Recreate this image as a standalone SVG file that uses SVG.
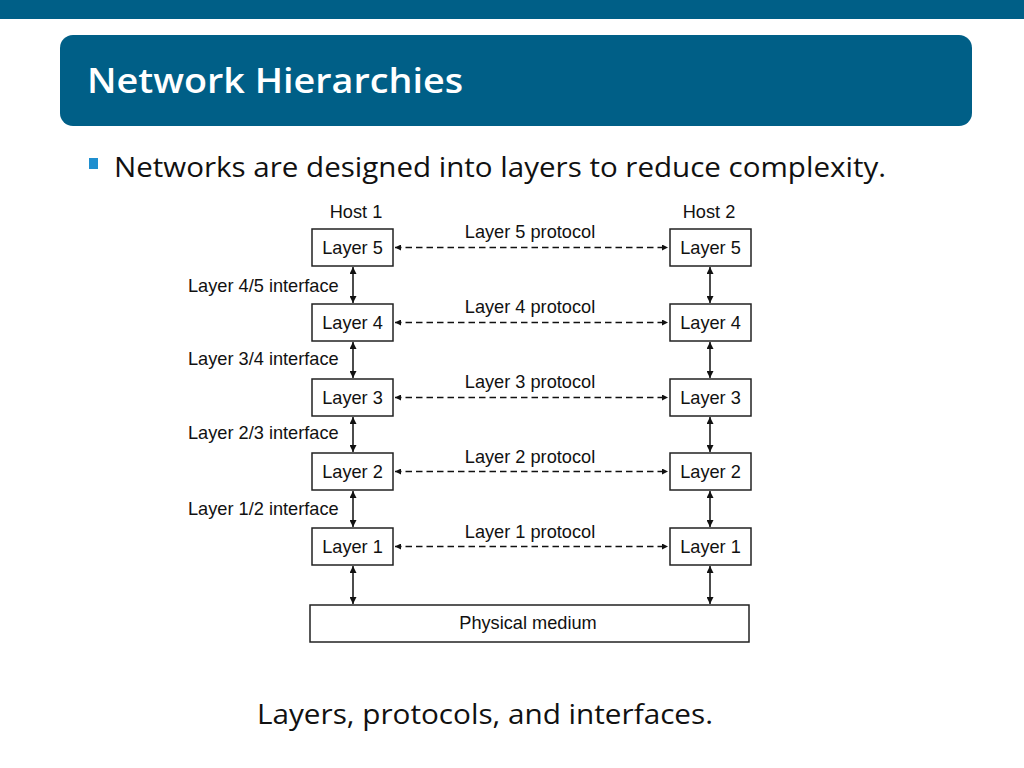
<svg xmlns="http://www.w3.org/2000/svg" width="1024" height="768" viewBox="0 0 1024 768">
<defs>
<marker id="ah" viewBox="0 0 10 10" refX="10" refY="5" markerWidth="10" markerHeight="6" markerUnits="userSpaceOnUse" orient="auto-start-reverse">
<path d="M0,0 L10,5 L0,10 z" fill="#111"/>
</marker>
<marker id="ahv" viewBox="0 0 10 10" refX="10" refY="5" markerWidth="10" markerHeight="7" markerUnits="userSpaceOnUse" orient="auto-start-reverse">
<path d="M0,0 L10,5 L0,10 z" fill="#111"/>
</marker>
</defs>
<style>
.box{fill:#fff;stroke:#222;stroke-width:1.5}
.lbl{font-family:"Liberation Sans",Arial,sans-serif;font-size:18.2px;fill:#111}
.mid{text-anchor:middle}
.dash{stroke:#111;stroke-width:1.3;stroke-dasharray:6.5 4;fill:none}
.vert{stroke:#111;stroke-width:1.5;fill:none}
.cal{font-family:"Open Sans","Noto Sans",sans-serif}
</style>
<rect x="0" y="0" width="1024" height="19" fill="#005f87"/>
<g id="title">
<rect x="60" y="35" width="912" height="91" rx="13" fill="#005f87"/>
<text class="cal" x="87" y="93" font-size="34" font-weight="600" fill="#fff" textLength="376" lengthAdjust="spacingAndGlyphs">Network Hierarchies</text>
</g>
<g id="bullet">
<rect x="89" y="158" width="9" height="11" fill="#1f8fcf"/>
<text class="cal" x="114" y="177" font-size="27" fill="#111" textLength="772" lengthAdjust="spacingAndGlyphs">Networks are designed into layers to reduce complexity.</text>
</g>
<g id="hosts">
<text class="lbl mid" x="356" y="218">Host 1</text>
<text class="lbl mid" x="709" y="218">Host 2</text>
</g>
<g id="left-layers">
<g id="L5"><rect class="box" x="312" y="229" width="81" height="37"/><text class="lbl mid" x="352.5" y="254">Layer 5</text></g>
<g id="L4"><rect class="box" x="312" y="304" width="81" height="37"/><text class="lbl mid" x="352.5" y="329">Layer 4</text></g>
<g id="L3"><rect class="box" x="312" y="379" width="81" height="37"/><text class="lbl mid" x="352.5" y="404">Layer 3</text></g>
<g id="L2"><rect class="box" x="312" y="453" width="81" height="37"/><text class="lbl mid" x="352.5" y="478">Layer 2</text></g>
<g id="L1"><rect class="box" x="312" y="528" width="81" height="37"/><text class="lbl mid" x="352.5" y="553">Layer 1</text></g>
</g>
<g id="right-layers">
<g id="R5"><rect class="box" x="670" y="229" width="81" height="37"/><text class="lbl mid" x="710.5" y="254">Layer 5</text></g>
<g id="R4"><rect class="box" x="670" y="304" width="81" height="37"/><text class="lbl mid" x="710.5" y="329">Layer 4</text></g>
<g id="R3"><rect class="box" x="670" y="379" width="81" height="37"/><text class="lbl mid" x="710.5" y="404">Layer 3</text></g>
<g id="R2"><rect class="box" x="670" y="453" width="81" height="37"/><text class="lbl mid" x="710.5" y="478">Layer 2</text></g>
<g id="R1"><rect class="box" x="670" y="528" width="81" height="37"/><text class="lbl mid" x="710.5" y="553">Layer 1</text></g>
</g>
<g id="medium">
<rect class="box" x="310" y="605" width="439" height="37"/>
<text class="lbl mid" x="528" y="629">Physical medium</text>
</g>
<g id="connectors">
<line class="dash" x1="395" y1="247.5" x2="668" y2="247.5" marker-start="url(#ah)" marker-end="url(#ah)"/>
<line class="dash" x1="395" y1="322.5" x2="668" y2="322.5" marker-start="url(#ah)" marker-end="url(#ah)"/>
<line class="dash" x1="395" y1="397.5" x2="668" y2="397.5" marker-start="url(#ah)" marker-end="url(#ah)"/>
<line class="dash" x1="395" y1="471.5" x2="668" y2="471.5" marker-start="url(#ah)" marker-end="url(#ah)"/>
<line class="dash" x1="395" y1="546.5" x2="668" y2="546.5" marker-start="url(#ah)" marker-end="url(#ah)"/>
<line class="vert" x1="353" y1="267" x2="353" y2="303" marker-start="url(#ahv)" marker-end="url(#ahv)"/>
<line class="vert" x1="353" y1="342" x2="353" y2="378" marker-start="url(#ahv)" marker-end="url(#ahv)"/>
<line class="vert" x1="353" y1="417" x2="353" y2="452" marker-start="url(#ahv)" marker-end="url(#ahv)"/>
<line class="vert" x1="353" y1="491" x2="353" y2="527" marker-start="url(#ahv)" marker-end="url(#ahv)"/>
<line class="vert" x1="353" y1="566" x2="353" y2="604" marker-start="url(#ahv)" marker-end="url(#ahv)"/>
<line class="vert" x1="710" y1="267" x2="710" y2="303" marker-start="url(#ahv)" marker-end="url(#ahv)"/>
<line class="vert" x1="710" y1="342" x2="710" y2="378" marker-start="url(#ahv)" marker-end="url(#ahv)"/>
<line class="vert" x1="710" y1="417" x2="710" y2="452" marker-start="url(#ahv)" marker-end="url(#ahv)"/>
<line class="vert" x1="710" y1="491" x2="710" y2="527" marker-start="url(#ahv)" marker-end="url(#ahv)"/>
<line class="vert" x1="710" y1="566" x2="710" y2="604" marker-start="url(#ahv)" marker-end="url(#ahv)"/>
</g>
<g id="protocol-labels">
<text class="lbl mid" x="530" y="238">Layer 5 protocol</text>
<text class="lbl mid" x="530" y="313">Layer 4 protocol</text>
<text class="lbl mid" x="530" y="388">Layer 3 protocol</text>
<text class="lbl mid" x="530" y="463">Layer 2 protocol</text>
<text class="lbl mid" x="530" y="538">Layer 1 protocol</text>
</g>
<g id="interface-labels">
<text class="lbl" x="188" y="292">Layer 4/5 interface</text>
<text class="lbl" x="188" y="365">Layer 3/4 interface</text>
<text class="lbl" x="188" y="439">Layer 2/3 interface</text>
<text class="lbl" x="188" y="515">Layer 1/2 interface</text>
</g>
<g id="caption">
<text class="cal" x="257" y="724" font-size="27" fill="#111" textLength="456" lengthAdjust="spacingAndGlyphs">Layers, protocols, and interfaces.</text>
</g>
</svg>
